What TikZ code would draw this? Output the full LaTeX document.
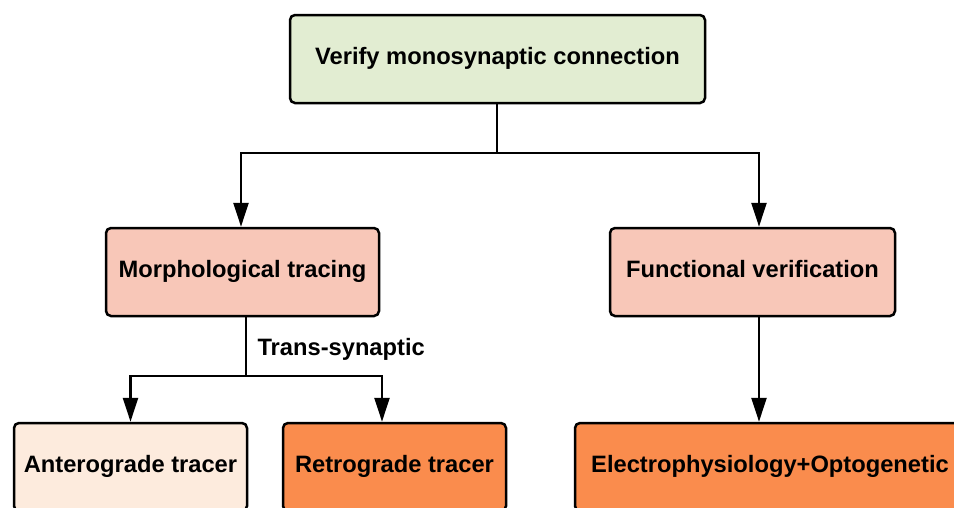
\documentclass[tikz,border=0pt]{standalone}
\usepackage{fontspec}
\setmainfont{Liberation Sans}
\usetikzlibrary{arrows.meta}

\definecolor{topgreen}{HTML}{E2EDD2}
\definecolor{salmon}{HTML}{F8C7B8}
\definecolor{peach}{HTML}{FDEBDD}
\definecolor{deeporange}{HTML}{FA8C4D}

\begin{document}
\begin{tikzpicture}[x=1pt,y=1pt,
  box/.style={draw=black,line width=2.5pt,rounded corners=5pt,minimum height=88pt,
    font=\fontsize{23.7}{28}\selectfont\bfseries,inner sep=0pt,
    text height=1.0em,text depth=0pt},
  link/.style={line width=2.5pt},
  arr/.style={link,-{Triangle[width=15pt,length=24pt]}}]
  \useasboundingbox (0,0) rectangle (954,-507);
  \clip (0,0) rectangle (954,-507);
  % top
  \node[box,fill=topgreen,minimum width=415pt] (verify) at (497.5,-59) {Verify monosynaptic connection};
  % middle row
  \node[box,fill=salmon,minimum width=273pt] (morph) at (242.5,-272) {Morphological tracing};
  \node[box,fill=salmon,minimum width=285pt] (func) at (752.5,-272) {Functional verification};
  % bottom row
  \node[box,fill=peach,minimum width=233pt] (antero) at (130.5,-467) {Anterograde tracer};
  \node[box,fill=deeporange,minimum width=223pt] (retro) at (394.5,-467) {Retrograde tracer};
  \node[box,fill=deeporange,minimum width=390pt] (electro) at (770,-467) {Electrophysiology+Optogenetic};
  % branch points
  \coordinate (fork1) at (497,-153);
  \coordinate (fork2) at (246,-376);
  \draw[link] (verify.south -| fork1) -- (fork1);
  \draw[arr] (fork1) -| ([xshift=-1.5pt]morph.north);
  \draw[arr] (fork1) -| ([xshift=6.5pt]func.north);
  \draw[link] (morph.south -| fork2) -- (fork2);
  \draw[arr] (fork2) -| (antero.north);
  \draw[arr] (fork2) -| ([xshift=-12.5pt]retro.north);
  \draw[arr] ([xshift=6.5pt]func.south) -- ([xshift=-11pt]electro.north);
  \node[anchor=west,font=\fontsize{23.7}{28}\selectfont\bfseries,text height=1.0em,text depth=0pt] (trans) at (254,-350) {Trans-synaptic};
\end{tikzpicture}
\end{document}
